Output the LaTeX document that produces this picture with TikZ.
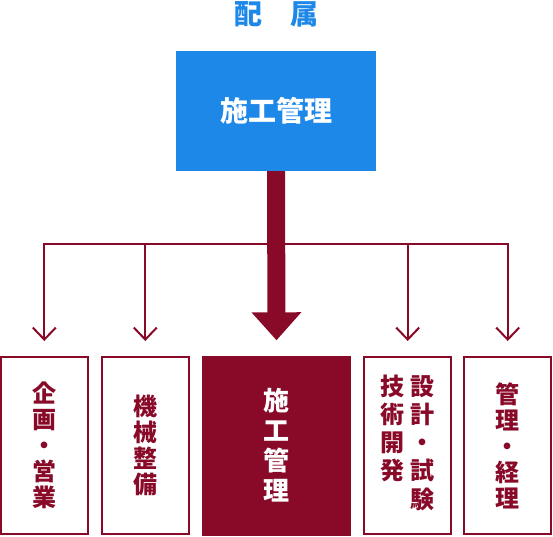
\documentclass[tikz,border=0pt]{standalone}
\usepackage{fontspec}
\usepackage{tikz}
\usetikzlibrary{arrows.meta, positioning}
\newfontfamily\jp{Noto Sans CJK JP}
\definecolor{siteblue}{HTML}{1E88E8}
\definecolor{wine}{HTML}{880A28}

\begin{document}
\begin{tikzpicture}[x=1pt, y=-1pt,
    every node/.style={inner sep=0pt},
    dept/.style={draw=wine, line width=2pt, minimum width=87pt, minimum height=177pt,
        text=wine, align=center, font=\jp\bfseries\fontsize{24}{26}\selectfont},
    branch/.style={draw=wine, line width=2pt, -{Straight Barb[length=12pt, width=23pt]}},
    trunk/.style={draw=wine, line width=18pt, -{Triangle[length=28pt, width=48pt]}}]

\useasboundingbox (0,0) rectangle (553,536);

% Title
\node[text=siteblue, font=\jp\bfseries\fontsize{28}{30}\selectfont] (title) at (276,14) {配　属};

% Assigned section (blue)
\node[fill=siteblue, minimum width=200pt, minimum height=120pt, text=white,
    font=\jp\bfseries\fontsize{28}{30}\selectfont] (site) at (276,111) {施工管理};

% Departments - centre one filled, others placed relative to it
\node[fill=wine, minimum width=149pt, minimum height=180pt, text=white, align=center,
    font=\jp\bfseries\fontsize{26}{30}\selectfont] (work) at (276.5,445.5) {施\\工\\管\\理};
\node[dept, left=12pt of work] (mech) {機\\械\\整\\備};
\node[dept, left=12pt of mech] (plan) {企\\画\\・\\営\\業};
\node[dept, right=12pt of work] (dev) {\begin{tabular}{@{}c@{\hspace{6pt}}c@{}}
    技&設\\ 術&計\\ 開&・\\ 発&試\\ &験\end{tabular}};
\node[dept, right=11pt of dev] (admin) {管\\理\\・\\経\\理};

% Branch arrows - from the bus line down to each box
\coordinate (hub) at ([yshift=-73pt]site.south);
\foreach \b in {plan, mech, dev, admin} {
    \draw[branch] (hub) -| ([yshift=15pt]\b.north);
}

% Main arrow - over the bus line
\draw[trunk] (site.south) -- ([yshift=15pt]work.north);
\end{tikzpicture}
\end{document}
